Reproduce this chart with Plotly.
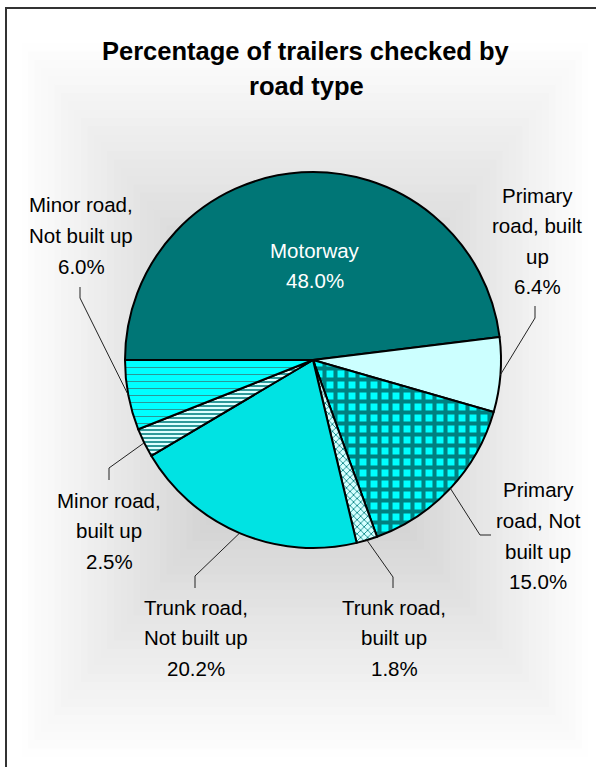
import math
import plotly.graph_objects as go

# ---- data -------------------------------------------------------------
road_types = [
    "Motorway",
    "Primary road, built up",
    "Primary road, Not built up",
    "Trunk road, built up",
    "Trunk road, Not built up",
    "Minor road, built up",
    "Minor road, Not built up",
]
shares = [48.0, 6.4, 15.0, 1.8, 20.2, 2.5, 6.0]

# how each category name is wrapped on the chart
label_lines = [
    ["Motorway"],
    ["Primary", "road, built", "up"],
    ["Primary", "road, Not", "built up"],
    ["Trunk road,", "built up"],
    ["Trunk road,", "Not built up"],
    ["Minor road,", "built up"],
    ["Minor road,", "Not built up"],
]

# ---- styling ----------------------------------------------------------
W, H = 596, 767
fill_colors = ["#007676", "#CCFFFF", "#00FFFF", "#D5FFFF", "#00E3E3", "#DDFFFF", "#00FFFF"]
pat_shapes = ["", "", "+", "x", "", "-", "-"]
pat_fg = ["#007676", "#CCFFFF", "#008080", "#008080", "#00E3E3", "#2E9A9A", "#2A9898"]
pat_size = [8, 8, 11, 5, 8, 4, 7]
pat_solid = [0.3, 0.3, 0.6, 0.3, 0.3, 0.5, 0.15]

# pie geometry in pixels (center and radius)
CX, CY, R = 313, 360, 188
ROT = -90  # first slice starts at 9 o'clock


def px(x):
    return x / W


def py(y):
    return 1 - y / H


# label placement: (x centre, y of first line, leader elbow, leader end)
label_pos = [
    (315, 250, None, None),
    (537, 195, (535, 318), (535, 306)),
    (538, 490, (480, 535), (491, 535)),
    (394, 607, (393, 577), (393, 588)),
    (196, 607, (195, 576), (195, 588)),
    (109, 500, (109, 468), (109, 480)),
    (81, 205, (80, 298), (80, 287)),
]
LINE_GAP = 30.5

fig = go.Figure()

fig.add_trace(go.Pie(
    labels=road_types,
    values=shares,
    sort=False,
    direction="clockwise",
    rotation=ROT,
    textinfo="none",
    hoverinfo="skip",
    showlegend=False,
    domain=dict(x=[px(CX - R), px(CX + R)], y=[py(CY + R), py(CY - R)]),
    marker=dict(
        colors=fill_colors,
        line=dict(color="#000000", width=2),
        pattern=dict(shape=pat_shapes, fgcolor=pat_fg, bgcolor=fill_colors,
                     size=pat_size, solidity=pat_solid, fillmode="replace"),
    ),
))

shapes = []

# soft rectangular grey glow behind the pie
GX, GY, HX, HY = 305, 400, 290, 365
N = 44
for k in range(N, 0, -1):
    d = k / N
    g = int(round(255 - 66 * (1 - d)))
    col = f"rgb({g},{g},{g})"
    shapes.append(dict(
        type="rect", xref="paper", yref="paper", layer="below",
        x0=px(GX - HX * d), x1=px(GX + HX * d),
        y0=py(GY + HY * d), y1=py(GY - HY * d),
        fillcolor=col, line=dict(width=0),
    ))

# chart frame
shapes.append(dict(type="rect", xref="paper", yref="paper", layer="above",
                   x0=px(6), x1=1.02, y0=-0.02, y1=py(8),
                   line=dict(color="#333333", width=2), fillcolor="rgba(0,0,0,0)"))

# leader lines from each slice's mid-angle on the rim to its label
total = sum(shares)
cum = 0.0
annotations = []
for i, v in enumerate(shares):
    mid = ROT + 360 * (cum + v / 2) / total
    cum += v
    a = math.radians(mid)
    ex, ey = CX + R * math.sin(a), CY - R * math.cos(a)
    xc, y0, elbow, end = label_pos[i]
    if elbow is not None:
        path = (f"M {px(ex)} {py(ey)} L {px(elbow[0])} {py(elbow[1])} "
                f"L {px(end[0])} {py(end[1])}")
        shapes.append(dict(type="path", xref="paper", yref="paper", layer="above",
                           path=path, line=dict(color="#222222", width=1)))
    lines = label_lines[i] + [f"{v:.1f}%"]
    colr = "#FFFFFF" if i == 0 else "#000000"
    for j, t in enumerate(lines):
        annotations.append(dict(
            x=px(xc), y=py(y0 + j * LINE_GAP), xref="paper", yref="paper",
            text=t, showarrow=False, xanchor="center", yanchor="middle",
            font=dict(family="Liberation Sans, Arial, sans-serif", size=20.5, color=colr),
        ))

# title
for j, t in enumerate(["Percentage of trailers checked by", "road type"]):
    annotations.append(dict(
        x=px(306), y=py(51 + j * 35), xref="paper", yref="paper",
        text=f"<b>{t}</b>", showarrow=False, xanchor="center", yanchor="middle",
        font=dict(family="Liberation Sans, Arial, sans-serif", size=25.5, color="#000000"),
    ))

fig.update_layout(
    width=W, height=H,
    margin=dict(l=0, r=0, t=0, b=0),
    paper_bgcolor="#FFFFFF",
    plot_bgcolor="#FFFFFF",
    shapes=shapes,
    annotations=annotations,
)

fig.write_html("out.html", include_plotlyjs=True)
